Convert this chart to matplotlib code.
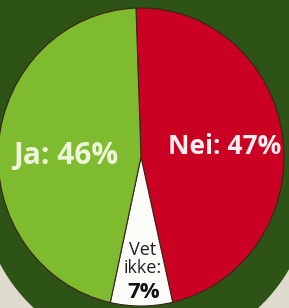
import matplotlib.pyplot as plt
from matplotlib.patches import Ellipse, Rectangle

# Data: poll result
labels = ['Nei', 'Vet ikke', 'Ja']
values = [47, 7, 46]
colors = ['#cb0123', '#fbfbf8', '#7fbb2f']

BG_DARK = '#2e5316'
BG_LIGHT = '#dfdccd'

W, H = 289, 308
fig = plt.figure(figsize=(W / 100, H / 100), dpi=100)
fig.patch.set_facecolor(BG_DARK)
ax = fig.add_axes([0, 0, 1, 1])
ax.set_facecolor(BG_DARK)

# pie geometry in pixels (slightly oval, like the photo)
cx, cy = 141, 157
rx, ry = 143, 149

wedges, _ = ax.pie(values, colors=colors, startangle=92, counterclock=False,
                   radius=1, center=(0, 0),
                   wedgeprops=dict(edgecolor='#3a2418', linewidth=0.8, zorder=3))
ax.set_aspect('auto')
ax.set_xlim((0 - cx) / rx, (W - cx) / rx)
ax.set_ylim((cy - H) / ry, cy / ry)

# light corners under a darker green disc
ax.add_patch(Rectangle((-2, (cy - H) / ry - 0.1), 4, (H - 250) / ry + 0.1,
                       facecolor=BG_LIGHT, edgecolor='none', zorder=0))
ax.add_patch(Ellipse(((146 - cx) / rx, (cy - 187) / ry), 2 * 165 / rx, 2 * 165 / ry,
                     facecolor=BG_DARK, edgecolor='none', zorder=1))


def px(x, y):
    return (x - cx) / rx, (cy - y) / ry


font = 'Open Sans'
ax.text(*px(66, 156), 'Ja: 46%', ha='center', va='center', fontsize=21.5,
        fontweight='bold', color='#eef5da', family=font, zorder=5)
ax.text(*px(225, 147), 'Nei: 47%', ha='center', va='center', fontsize=19,
        fontweight='bold', color='#fbeef0', family=font, zorder=5)
ax.text(*px(143, 259), 'Vet\nikke:', ha='center', va='center', fontsize=13,
        color='#222222', family=font, linespacing=1.0, zorder=5)
ax.text(*px(144, 292), '7%', ha='center', va='center', fontsize=16,
        fontweight='bold', color='#111111', family=font, zorder=5)

fig.savefig('out.png', dpi=100, facecolor=fig.get_facecolor())
